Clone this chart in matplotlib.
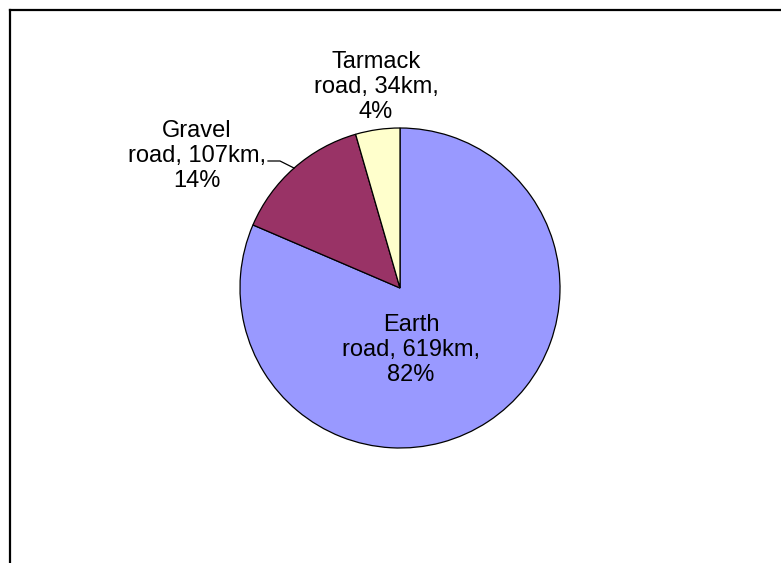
import numpy as np
from matplotlib import pyplot as plt
from matplotlib.lines import Line2D

plt.rcParams['font.family'] = ['Liberation Sans', 'DejaVu Sans']

# road network by surface type
surfaces = ["Earth road", "Gravel road", "Tarmack road"]
lengths_km = [619, 107, 34]
shares_pct = [82, 14, 4]
colors = ["#9999FF", "#993366", "#FFFFCC"]

W, H = 781, 563
fig = plt.figure(figsize=(W / 100, H / 100), dpi=100)
ax = fig.add_axes([0, 0, 1, 1])
ax.set_xlim(0, W)
ax.set_ylim(0, H)
ax.set_aspect('equal')
ax.axis('off')

cx, cy, r = 400, H - 288, 160
wedges, _ = ax.pie(lengths_km, colors=colors, startangle=90, counterclock=False,
                   center=(cx, cy), radius=r, frame=True,
                   wedgeprops=dict(edgecolor="black", linewidth=0.9))
ax.set_xlim(0, W)
ax.set_ylim(0, H)
ax.axis('off')

# label block centres (pixel coords, y measured from top)
label_pos = [(411, 350), (197, 156), (376, 87)]
for name, km, pct, (lx, ly) in zip(surfaces, lengths_km, shares_pct, label_pos):
    first, second = name.split()
    txt = f"{first}\n{second}, {km}km,\n{pct}%"
    ax.text(lx, H - ly, txt, ha="center", va="center", fontsize=17,
            linespacing=1.15)

# leader line for the gravel label, ending on the wedge rim at its mid-angle
w = wedges[1]
mid = np.deg2rad((w.theta1 + w.theta2) / 2)
rim = (cx + r * np.cos(mid), cy + r * np.sin(mid))
ax.plot([268, 280, rim[0]], [H - 161, H - 161, rim[1]], color="black", lw=0.9)

# chart area border (top and left edges visible)
fig.add_artist(Line2D([9.5 / W, 1], [1 - 9.5 / H, 1 - 9.5 / H],
                      transform=fig.transFigure, color="black", lw=1.6))
fig.add_artist(Line2D([9.5 / W, 9.5 / W], [0, 1 - 9.5 / H],
                      transform=fig.transFigure, color="black", lw=1.6))

fig.savefig("out.png", dpi=100)
